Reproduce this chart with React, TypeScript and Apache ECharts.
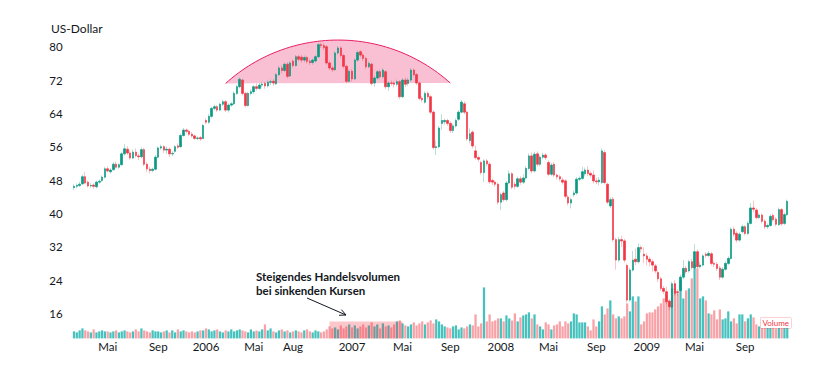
import React, { useEffect, useRef } from "react";
import * as echarts from "echarts";

// Weekly candles, first week starting Monday 2005-02-07: [open, close, low, high] in US-Dollar
const ohlc: number[][] = [
  [46.2,46.5,45.6,47.0],[46.5,46.7,46.0,47.2],[46.7,47.0,46.3,47.6],[47.1,48.8,46.9,49.3],[48.8,47.3,47.0,49.9],
  [47.5,46.6,46.2,47.9],[46.6,46.7,46.1,47.3],[46.8,46.5,45.9,47.2],[46.4,47.5,46.0,47.9],[47.5,47.7,47.1,48.2],
  [47.9,48.7,47.5,49.1],[48.7,50.7,48.4,51.2],[50.7,50.2,49.8,51.3],[50.0,50.4,49.6,50.9],[50.5,51.8,50.2,52.3],
  [51.8,51.1,50.8,52.4],[51.1,51.7,50.7,52.0],[51.7,54.3,51.4,54.8],[54.3,55.5,53.9,56.6],[55.4,54.5,54.0,56.1],
  [54.5,53.3,52.9,55.1],[53.3,54.7,53.0,55.3],[54.7,53.9,53.4,55.6],[53.8,53.6,52.8,54.4],[53.6,55.3,53.2,55.8],
  [55.3,51.8,51.4,55.7],[51.8,50.7,49.9,52.3],[50.6,50.3,49.6,51.2],[50.3,50.6,49.9,51.0],[50.6,53.5,50.3,54.0],
  [53.5,55.7,53.2,56.1],[55.7,56.0,55.2,56.5],[56.0,55.2,54.5,56.4],[55.2,55.4,54.3,56.0],[55.4,54.3,53.5,55.8],
  [54.3,54.4,53.7,54.9],[54.9,56.0,54.5,56.4],[56.2,55.9,55.4,56.8],[56.0,58.7,55.8,59.1],[58.7,60.0,58.4,60.5],
  [60.0,59.7,59.2,60.4],[59.7,59.0,58.6,60.1],[59.0,58.6,58.2,59.5],[58.6,58.0,57.6,58.9],[58.0,58.1,57.5,58.5],
  [58.2,57.9,57.4,58.6],[58.0,61.1,57.8,61.5],[62.3,61.9,61.4,62.8],[61.9,63.3,61.5,63.8],[63.3,65.2,62.9,65.6],
  [65.2,65.6,64.7,66.1],[65.6,64.8,64.3,66.0],[64.8,66.2,64.5,66.6],[66.2,66.8,65.8,67.3],[66.8,64.8,64.3,67.2],
  [64.8,66.0,64.2,66.4],[66.0,66.3,65.6,66.8],[66.3,68.8,66.0,69.3],[68.8,70.4,68.4,70.9],[70.4,72.2,70.0,72.6],
  [72.0,68.8,68.3,72.3],[68.8,65.9,65.4,69.2],[65.9,68.8,65.6,69.2],[68.8,69.2,68.3,69.8],[69.2,70.4,68.7,70.8],
  [70.4,70.0,69.5,71.2],[70.0,70.8,69.6,71.3],[70.8,71.0,70.2,71.5],[71.2,70.6,69.9,71.6],[70.6,71.5,70.2,71.9],
  [71.5,71.6,70.8,72.1],[71.7,71.3,70.6,72.2],[71.1,73.3,70.8,73.7],[73.3,74.9,73.0,75.4],[74.9,74.3,73.6,75.5],
  [74.3,75.8,73.9,76.2],[75.8,72.9,72.4,76.3],[73.0,76.1,72.7,76.5],[76.5,75.5,75.0,76.9],[75.5,77.6,75.2,78.0],
  [77.6,77.0,76.5,78.1],[77.5,76.8,76.2,78.0],[76.8,77.4,76.3,77.9],[77.4,76.5,75.9,77.8],[76.5,76.2,75.6,77.0],
  [76.2,76.8,75.7,77.2],[76.6,77.6,76.2,78.0],[77.6,80.5,77.3,81.0],[80.5,80.3,79.7,81.0],[80.3,79.8,79.2,80.9],
  [80.0,76.1,75.6,80.4],[76.1,74.9,74.3,76.6],[74.9,74.5,73.9,75.4],[74.5,78.5,74.2,78.9],[78.5,79.7,78.1,80.2],
  [79.7,77.9,77.4,80.1],[77.9,75.3,74.8,78.3],[75.3,71.7,71.2,75.7],[71.7,74.1,71.4,74.5],[74.1,72.3,71.6,74.6],
  [72.3,76.8,72.0,77.2],[76.8,78.6,76.4,79.1],[78.8,78.0,77.4,79.2],[78.0,77.2,76.6,78.5],[77.2,75.2,74.6,77.6],
  [75.2,76.0,74.8,76.5],[75.8,71.2,70.7,76.2],[71.3,72.5,70.4,73.0],[72.5,74.0,72.1,74.4],[74.0,72.8,72.2,74.5],
  [72.8,74.4,72.4,74.9],[74.0,70.4,69.8,74.4],[70.4,71.3,69.4,71.8],[71.3,71.2,70.6,71.9],[71.3,71.0,70.2,71.7],
  [71.0,71.6,70.5,72.1],[71.6,68.0,67.5,72.0],[68.0,72.0,67.7,72.4],[72.0,71.0,70.3,72.6],[71.2,72.0,70.6,72.5],
  [72.0,74.4,71.6,74.9],[74.4,73.3,72.8,74.8],[73.3,71.3,70.8,73.7],[71.3,67.6,67.1,71.6],[67.6,67.3,66.6,68.2],
  [66.7,68.8,66.3,69.3],[68.8,68.0,67.4,69.3],[68.0,64.3,63.8,68.4],[64.3,55.8,55.3,64.7],[55.8,56.0,54.0,57.5],
  [56.0,60.5,55.6,61.0],[61.6,62.3,60.1,63.8],[62.0,62.3,61.3,62.8],[62.3,61.6,61.0,62.7],[61.6,59.9,59.3,62.1],
  [59.9,61.0,59.3,61.5],[61.0,62.3,60.6,62.8],[62.6,64.3,62.2,64.8],[64.3,66.7,64.0,67.2],[66.3,64.3,63.8,66.9],
  [64.3,57.9,57.4,64.6],[57.5,59.1,56.8,60.4],[59.5,56.2,55.6,59.9],[55.0,53.4,52.9,56.2],[53.4,53.0,52.4,53.9],
  [52.2,49.8,49.3,52.6],[49.8,52.6,47.5,53.0],[52.6,51.9,51.3,53.1],[51.8,47.6,47.1,52.3],[47.9,47.5,46.8,48.4],
  [47.5,47.0,46.4,47.9],[47.0,42.7,42.1,47.4],[42.7,44.5,40.8,45.0],[44.9,43.3,42.8,45.4],[43.3,47.3,42.9,47.8],
  [47.3,49.5,47.0,50.3],[49.5,46.3,45.8,49.9],[47.0,46.5,45.8,47.6],[46.5,48.3,46.1,48.8],[48.3,47.5,46.9,48.9],
  [47.5,48.5,47.1,49.4],[48.5,50.8,48.1,51.3],[50.8,53.8,50.4,54.4],[53.8,50.2,49.6,54.6],[50.2,54.2,49.8,54.8],
  [54.3,51.8,51.2,54.9],[51.8,53.5,51.3,54.0],[53.5,54.0,53.0,54.6],[54.0,53.4,52.8,54.5],[52.2,49.4,48.9,52.7],
  [49.4,51.6,49.0,52.1],[51.8,49.2,48.7,52.3],[49.2,48.8,48.1,49.5],[48.8,48.3,47.7,49.3],[48.0,47.5,46.9,48.6],
  [47.8,44.1,43.6,48.2],[43.9,42.5,41.9,44.4],[42.5,43.3,41.2,43.8],[44.5,44.9,44.0,45.5],[44.9,48.2,44.5,48.7],
  [48.2,48.4,47.7,48.9],[48.4,50.0,48.0,51.2],[49.5,50.4,48.9,51.0],[50.4,49.6,49.0,51.3],[49.6,49.2,48.6,50.1],
  [49.2,47.8,47.2,50.3],[47.8,47.6,47.0,48.5],[47.6,48.0,46.8,48.7],[47.4,55.0,47.1,55.6],[54.6,47.4,46.9,55.2],
  [47.0,42.7,42.2,47.4],[41.8,43.3,41.3,43.9],[43.4,33.7,33.2,44.0],[33.7,28.8,26.5,34.2],[28.8,33.7,28.3,34.3],
  [33.7,33.4,32.0,34.6],[33.4,28.8,28.2,33.9],[27.5,19.2,18.6,28.0],[19.2,26.4,18.8,26.9],[26.4,28.8,26.0,31.0],
  [29.0,28.4,27.6,31.5],[28.4,31.8,28.0,32.8],[31.8,31.5,30.6,32.3],[30.2,29.8,28.0,31.8],[29.8,29.0,27.5,30.5],
  [29.0,28.4,27.3,29.6],[28.4,27.6,26.0,29.0],[27.4,26.2,25.6,27.9],[25.8,24.3,23.5,26.3],[24.3,22.0,21.4,24.8],
  [22.0,21.3,20.6,22.6],[21.2,18.8,18.2,22.4],[18.9,17.6,16.8,19.4],[17.5,23.1,17.1,23.6],[23.1,20.8,20.2,24.0],
  [21.2,21.0,20.3,21.8],[21.5,24.7,21.1,25.3],[24.7,26.8,24.2,28.8],[26.8,26.0,25.4,27.4],[26.2,28.4,25.8,28.9],
  [28.4,27.0,26.5,29.1],[27.0,30.8,26.6,32.6],[30.8,27.2,26.8,31.4],[27.2,27.6,26.8,28.4],[27.6,29.8,27.3,30.3],
  [30.2,29.9,29.3,30.7],[29.9,30.4,29.5,31.0],[30.3,28.0,27.5,30.8],[28.0,27.8,27.1,28.5],[27.8,26.8,26.2,28.3],
  [26.9,24.7,24.0,27.4],[24.7,26.6,24.3,27.1],[26.6,28.0,26.2,28.5],[28.0,29.2,27.6,29.7],[29.2,36.2,28.9,36.7],
  [36.2,35.0,34.4,36.8],[35.2,33.6,33.0,35.7],[33.6,35.0,33.2,35.5],[35.6,36.8,35.2,37.3],[36.8,35.2,34.7,37.2],
  [35.2,37.6,34.8,38.1],[37.6,41.3,37.3,42.5],[41.3,41.0,40.3,43.0],[40.8,39.0,38.5,41.3],[39.0,39.6,38.6,40.1],
  [39.6,38.1,37.6,40.0],[38.1,36.8,36.2,38.6],[36.8,37.1,36.3,37.6],[37.1,39.3,36.8,39.8],[39.5,38.5,38.0,40.0],
  [38.6,37.4,36.9,39.1],[37.3,40.9,37.0,41.4],[40.9,37.5,37.0,41.3],[37.6,39.7,37.2,40.2],[39.7,42.9,39.4,43.3],
];

// Weekly trading volume (relative units)
const volume: number[] = [
  7,6,8,10,8,7,6,9,6,7, 8,7,7,6,7,8,6,7,8,7, 6,7,9,7,10,8,7,6,8,7, 7,6,7,8,6,8,6,9,7,
  8,7,6,7,6,7,8,8,10,9, 7,8,9,7,6,8,7,9,7,8, 9,8,7,6,9,7,8,7,9,14, 8,10,7,6,8,9,7,8,6,7,
  8,7,6,8,9,7,6,8,7,6, 7,9,12,10,11,9,13,10,12,14, 11,13,10,12,14,11,13,16,12,
  14,10,15,12,13,11,14,17,18,15, 13,12,14,16,13,15,17,14,16,18, 15,19,17,14,12,11,10,12,13,9,
  11,10,12,14,13,24,12,15,51,17, 24,17,18,20,20,17,23,20,18,25, 17,21,23,24,26,20,24,14,12,9,
  16,14,9,13,14,17,12,17,15, 17,25,24,16,16,16,12,8,19,12, 17,32,24,30,38,24,20,22,20,22,
  35,27,42,37,42,14,17,25,26,26, 29,32,35,40,44,38,50,55,45,58, 40,48,50,60,74,70,40,42,38,25,
  24,28,19,29,19,20,27,17,20,15, 24,24,17,20,24,21,14,12,17,20, 17,12,14,10,16,13,11,14,
];

const FIRST_WEEK = Date.UTC(2005, 1, 7);
const weeks: string[] = ohlc.map((_, i) =>
  new Date(FIRST_WEEK + i * 7 * 86400000).toISOString().slice(0, 10)
);

// Months that carry a tick label (first weekly bar of the month)
const labelledMonths = [
  "2005-05", "2005-09", "2006-01", "2006-05", "2006-08", "2007-01", "2007-05",
  "2007-09", "2008-01", "2008-05", "2008-09", "2009-01", "2009-05", "2009-09",
];
const monthNames: Record<string, string> = { "05": "Mai", "08": "Aug", "09": "Sep" };

// Rounding-top arc: [week index, price] for left end, apex, right end
const roundingTop: number[][] = [[54.1, 71.2], [94.7, 81.6], [134.3, 71.3]];
// Volume zone highlighted: week range and volume level
const volumeZone = { from: 91, to: 117, level: 17 };

const UP = "#089981";
const DOWN = "#f23645";
const FONT = "Lato, 'Open Sans', sans-serif";

export default function App() {
  const ref = useRef<HTMLDivElement>(null);
  useEffect(() => {
    const chart = echarts.init(ref.current!, null, { renderer: "svg" });
    const band = 2.808;
    const gridLeft = 72.6;
    chart.setOption({
      animation: false,
      backgroundColor: "#ffffff",
      grid: { left: gridLeft, width: ohlc.length * band, top: 38.4, height: 300 },
      xAxis: {
        type: "category",
        data: weeks,
        boundaryGap: true,
        axisLine: { show: false },
        axisTick: { show: false },
        splitLine: { show: false },
        axisLabel: {
          color: "#131722",
          fontFamily: FONT,
          fontSize: 11.5,
          margin: 2,
          interval: (index: number, value: string) => {
            const m = value.slice(0, 7);
            return labelledMonths.includes(m) && (index === 0 || weeks[index - 1].slice(0, 7) !== m);
          },
          formatter: (value: string) => {
            const mm = value.slice(5, 7);
            return mm === "01" ? value.slice(0, 4) : monthNames[mm] || "";
          },
        },
      },
      yAxis: [
        {
          type: "value",
          min: 10,
          max: 82,
          interval: 2,
          position: "left",
          axisLine: { show: false },
          axisTick: { show: false },
          splitLine: { show: false },
          axisLabel: {
            color: "#131722",
            fontFamily: FONT,
            fontSize: 11.5,
            margin: 10,
            formatter: (v: number) => (v >= 16 && v % 8 === 0 ? String(v) : ""),
          },
        },
        { type: "value", min: 0, max: 300, show: false },
      ],
      series: [
        {
          type: "bar",
          yAxisIndex: 1,
          barWidth: "80%",
          silent: true,
          data: volume.map((v, i) => ({
            value: v,
            itemStyle: { color: ohlc[i][1] >= ohlc[i][0] ? "#45c2bd" : "#f8a1a7" },
          })),
        },
        {
          type: "candlestick",
          barWidth: 2,
          silent: true,
          data: ohlc,
          itemStyle: {
            color: "transparent",
            color0: "transparent",
            borderColor: "rgba(8,153,129,0.3)",
            borderColor0: "rgba(242,54,69,0.3)",
            borderWidth: 1,
          },
        },
        {
          type: "candlestick",
          barWidth: 2,
          silent: true,
          data: ohlc.map(([o, c]) => [o, c, Math.min(o, c), Math.max(o, c)]),
          itemStyle: { color: UP, color0: DOWN, borderColor: UP, borderColor0: DOWN, borderWidth: 0.5 },
        },
      ],
    });

    const px = (i: number, p: number, yAxisIndex = 0) =>
      chart.convertToPixel({ xAxisIndex: 0, yAxisIndex }, [i, p]) as number[];

    // Circle through three anchor points of the rounding top
    const [a, b, c] = roundingTop.map(([i, p]) => px(i, p));
    const d = 2 * (a[0] * (b[1] - c[1]) + b[0] * (c[1] - a[1]) + c[0] * (a[1] - b[1]));
    const sq = (q: number[]) => q[0] * q[0] + q[1] * q[1];
    const cx = (sq(a) * (b[1] - c[1]) + sq(b) * (c[1] - a[1]) + sq(c) * (a[1] - b[1])) / d;
    const cy = (sq(a) * (c[0] - b[0]) + sq(b) * (a[0] - c[0]) + sq(c) * (b[0] - a[0])) / d;
    const r = Math.hypot(a[0] - cx, a[1] - cy);
    const a0 = Math.atan2(a[1] - cy, a[0] - cx);
    const a1 = Math.atan2(c[1] - cy, c[0] - cx);
    const arcPts: number[][] = [];
    for (let k = 0; k <= 60; k++) {
      const t = a0 + ((a1 - a0) * k) / 60;
      arcPts.push([cx + r * Math.cos(t), cy + r * Math.sin(t)]);
    }

    const zl = px(volumeZone.from, volumeZone.level, 1);
    const zr = px(volumeZone.to, 0, 1);

    const arrowFrom = [307, 298];
    const arrowTo = [346, 315];
    const ang = Math.atan2(arrowTo[1] - arrowFrom[1], arrowTo[0] - arrowFrom[0]);
    const hl = 7;
    const head = [
      [arrowTo[0] - hl * Math.cos(ang - 0.45), arrowTo[1] - hl * Math.sin(ang - 0.45)],
      arrowTo,
      [arrowTo[0] - hl * Math.cos(ang + 0.45), arrowTo[1] - hl * Math.sin(ang + 0.45)],
    ];

    chart.setOption({
      graphic: [
        {
          type: "text",
          x: 51,
          y: 22,
          style: { text: "US-Dollar", fill: "#131722", font: `12px ${FONT}` },
        },
        {
          type: "polygon",
          z: 1,
          silent: true,
          shape: { points: arcPts },
          style: { fill: "rgba(233,30,99,0.28)", stroke: "none" },
        },
        {
          type: "polyline",
          z: 1,
          silent: true,
          shape: { points: arcPts },
          style: { stroke: "#e91e63", lineWidth: 1, fill: "none" },
        },
        {
          type: "rect",
          z: 50,
          silent: true,
          shape: { x: zl[0], y: zl[1], width: zr[0] - zl[0], height: zr[1] - zl[1] },
          style: { fill: "rgba(242,54,69,0.28)" },
        },
        {
          type: "text",
          z: 50,
          x: 256,
          y: 269,
          style: {
            text: "Steigendes Handelsvolumen\nbei sinkenden Kursen",
            fill: "#131722",
            font: `bold 11.5px ${FONT}`,
            lineHeight: 14,
          },
        },
        {
          type: "line",
          z: 50,
          shape: { x1: arrowFrom[0], y1: arrowFrom[1], x2: arrowTo[0], y2: arrowTo[1] },
          style: { stroke: "#131722", lineWidth: 1 },
        },
        {
          type: "polyline",
          z: 50,
          shape: { points: head },
          style: { stroke: "#131722", lineWidth: 1, fill: "none" },
        },
        {
          type: "text",
          z: 50,
          x: 791,
          y: 323,
          style: {
            text: "Volume",
            fill: DOWN,
            font: `8px ${FONT}`,
            align: "right",
            verticalAlign: "middle",
            backgroundColor: "#ffffff",
            borderColor: "rgba(242,54,69,0.45)",
            borderWidth: 0.5,
            padding: [1, 2],
          },
        },
      ],
    });
    return () => chart.dispose();
  }, []);
  return (
    <div
      ref={ref}
      style={{ position: "fixed", left: 0, top: 0, width: 840, height: 377, background: "#fff" }}
    />
  );
}
